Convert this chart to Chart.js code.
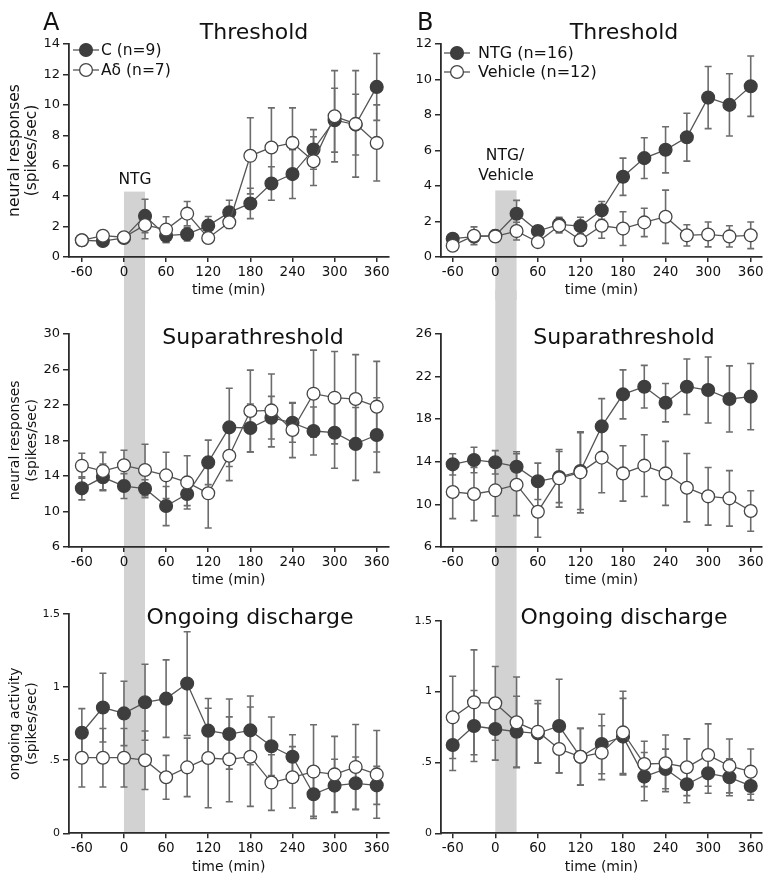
<!DOCTYPE html>
<html lang="en">
<head>
<meta charset="UTF-8">
<title>Threshold, suprathreshold and ongoing discharge</title>
<script src="https://cdn.jsdelivr.net/npm/chart.js"></script>
<style>
  body { margin: 0; background: #fff; }
  #figure { position: relative; width: 772px; height: 885px; overflow: hidden; }
  #figure canvas { position: absolute; }
</style>
</head>
<body>
<div id="figure">
  <canvas id="a1" width="396" height="300" style="left:0px;top:0px"></canvas>
  <canvas id="b1" width="386" height="300" style="left:386px;top:0px"></canvas>
  <canvas id="a2" width="396" height="300" style="left:0px;top:290px"></canvas>
  <canvas id="b2" width="386" height="300" style="left:386px;top:290px"></canvas>
  <canvas id="a3" width="396" height="295" style="left:0px;top:590px"></canvas>
  <canvas id="b3" width="386" height="295" style="left:386px;top:590px"></canvas>
</div>

<script>
// time points (min) and axis ticks
const times = [-60, -30, 0, 30, 60, 90, 120, 150, 180, 210, 240, 270, 300, 330, 360];
const xTicks = [-60, 0, 60, 120, 180, 240, 300, 360];
const yTicksThrA = [0, 2, 4, 6, 8, 10, 12, 14];
const yTicksThrB = [0, 2, 4, 6, 8, 10, 12];
const yTicksSupA = [6, 10, 14, 18, 22, 26, 30];
const yTicksSupB = [6, 10, 14, 18, 22, 26];
const yTicksOng = [0, 0.5, 1, 1.5];
const yTickLabelsOng = ['0', '.5', '1', '1.5'];

// A - threshold
const thrC = [1.1, 1.05, 1.25, 2.7, 1.4, 1.5, 2.06, 2.93, 3.52, 4.83, 5.45, 7.07, 8.99, 8.7, 11.18];
const thrCErr = [0.2, 0.2, 0.3, 1.1, 0.45, 0.45, 0.6, 0.8, 1.0, 1.1, 1.6, 1.3, 2.1, 2.0, 2.2];
const thrAd = [1.1, 1.4, 1.3, 2.1, 1.8, 2.85, 1.25, 2.28, 6.65, 7.2, 7.5, 6.3, 9.25, 8.75, 7.5];
const thrAdErr = [0.2, 0.2, 0.3, 0.9, 0.85, 0.8, 0.3, 0.4, 2.5, 2.6, 2.3, 1.6, 3.0, 3.5, 2.5];

// B - threshold
const thrNtg = [1.03, 1.15, 1.2, 2.44, 1.46, 1.84, 1.74, 2.63, 4.52, 5.57, 6.04, 6.75, 8.98, 8.57, 9.62];
const thrNtgErr = [0.2, 0.3, 0.3, 0.75, 0.3, 0.4, 0.5, 0.5, 1.05, 1.15, 1.3, 1.35, 1.75, 1.75, 1.7];
const thrVeh = [0.64, 1.2, 1.16, 1.46, 0.84, 1.76, 0.96, 1.76, 1.6, 1.95, 2.27, 1.22, 1.27, 1.16, 1.22];
const thrVehErr = [0.2, 0.5, 0.3, 0.5, 0.2, 0.4, 0.35, 0.7, 0.95, 0.8, 1.5, 0.6, 0.7, 0.6, 0.75];

// A - suprathreshold
const supC = [12.6, 13.84, 12.86, 12.56, 10.61, 11.96, 15.52, 19.46, 19.39, 20.55, 19.98, 19.05, 18.86, 17.6, 18.6];
const supCErr = [1.3, 1.5, 1.4, 1.0, 2.2, 1.3, 2.5, 4.4, 2.7, 2.4, 2.2, 2.7, 4.0, 4.1, 4.2];
const supAd = [15.15, 14.55, 15.19, 14.66, 14.06, 13.27, 12.04, 16.27, 21.3, 21.37, 19.16, 23.25, 22.8, 22.65, 21.79];
const supAdErr = [1.4, 2.1, 1.7, 2.9, 2.6, 3.0, 3.9, 2.8, 4.6, 4.1, 3.1, 4.9, 5.2, 5.0, 5.1];

// B - suprathreshold
const supNtg = [13.75, 14.16, 13.94, 13.53, 12.16, 12.56, 13.12, 17.31, 20.31, 21.03, 19.53, 21.03, 20.72, 19.88, 20.1];
const supNtgErr = [1.0, 1.2, 1.1, 1.4, 1.7, 2.4, 3.6, 2.6, 2.3, 2.0, 1.8, 2.6, 3.1, 3.1, 3.1];
const supVeh = [11.16, 10.97, 11.31, 11.84, 9.31, 12.44, 13.0, 14.38, 12.9, 13.63, 12.9, 11.56, 10.75, 10.56, 9.38];
const supVehErr = [2.5, 2.5, 2.4, 2.9, 2.4, 2.7, 3.8, 3.3, 2.6, 2.9, 3.0, 3.2, 2.7, 2.6, 1.9];

// A - ongoing discharge
const ongC = [0.688, 0.86, 0.82, 0.896, 0.921, 1.024, 0.702, 0.679, 0.704, 0.595, 0.524, 0.267, 0.326, 0.342, 0.328];
const ongCErr = [0.165, 0.235, 0.22, 0.26, 0.265, 0.355, 0.22, 0.24, 0.235, 0.2, 0.15, 0.15, 0.18, 0.18, 0.13];
const ongAd = [0.517, 0.517, 0.517, 0.5, 0.383, 0.451, 0.515, 0.506, 0.524, 0.347, 0.383, 0.422, 0.403, 0.454, 0.403];
const ongAdErr = [0.2, 0.2, 0.2, 0.2, 0.15, 0.2, 0.34, 0.29, 0.34, 0.19, 0.21, 0.32, 0.26, 0.29, 0.3];

// B - ongoing discharge
const ongNtg = [0.623, 0.757, 0.736, 0.717, 0.705, 0.757, 0.54, 0.63, 0.682, 0.4, 0.454, 0.346, 0.423, 0.395, 0.334];
const ongNtgErr = [0.18, 0.25, 0.22, 0.25, 0.21, 0.33, 0.2, 0.21, 0.27, 0.17, 0.14, 0.13, 0.14, 0.13, 0.1];
const ongVeh = [0.818, 0.924, 0.917, 0.783, 0.717, 0.595, 0.54, 0.569, 0.712, 0.489, 0.494, 0.466, 0.552, 0.475, 0.435];
const ongVehErr = [0.29, 0.37, 0.26, 0.32, 0.22, 0.17, 0.2, 0.19, 0.29, 0.16, 0.2, 0.2, 0.22, 0.19, 0.16];

const FONT = 'DejaVu Sans';
const AXIS = '#2b2b2b';
const BAND = '#d2d2d2';

function makePanel(id, p) {
  const canvas = document.getElementById(id);
  const offX = parseFloat(canvas.style.left), offY = parseFloat(canvas.style.top);

  const datasets = p.series.map(s => ({
    label: s.label,
    data: times.map((t, k) => ({ x: t, y: s.values[k] })),
    errors: s.errors,
    filled: s.filled,
    borderColor: '#555',
    borderWidth: 1.3,
    pointRadius: 6.4,
    pointBorderWidth: 1.3,
    pointBackgroundColor: s.filled ? '#3e3e3e' : '#ffffff',
    pointBorderColor: s.filled ? '#3e3e3e' : '#454545',
    order: s.filled ? 1 : 0,
    tension: 0
  }));

  // grey bar for the drug application, behind everything
  const bandPlugin = {
    id: 'band',
    beforeDraw(chart) {
      const { ctx, chartArea } = chart;
      const x = chart.scales.x, y = chart.scales.y;
      const x0 = x.getPixelForValue(0), x1 = x.getPixelForValue(30);
      const top = p.bandTop != null ? y.getPixelForValue(p.bandTop) : 0;
      const bottom = p.bandToAxis ? chartArea.bottom : chart.height;
      ctx.save();
      ctx.fillStyle = BAND;
      ctx.fillRect(x0, top, x1 - x0, bottom - top);
      ctx.restore();
    }
  };

  // SEM bars, drawn under lines and markers
  const errorPlugin = {
    id: 'errorBars',
    beforeDatasetsDraw(chart) {
      const { ctx } = chart;
      const y = chart.scales.y;
      ctx.save();
      ctx.strokeStyle = '#6c6c6c';
      ctx.lineWidth = 1.6;
      chart.data.datasets.forEach((ds, i) => {
        const meta = chart.getDatasetMeta(i);
        meta.data.forEach((pt, k) => {
          const v = ds.data[k].y, e = ds.errors[k];
          const yHi = y.getPixelForValue(v + e), yLo = y.getPixelForValue(v - e);
          ctx.beginPath();
          ctx.moveTo(pt.x, yHi); ctx.lineTo(pt.x, yLo);
          ctx.moveTo(pt.x - 3.5, yHi); ctx.lineTo(pt.x + 3.5, yHi);
          ctx.moveTo(pt.x - 3.5, yLo); ctx.lineTo(pt.x + 3.5, yLo);
          ctx.stroke();
        });
      });
      ctx.restore();
    }
  };

  // titles, letters, legend
  const textPlugin = {
    id: 'texts',
    afterDraw(chart) {
      const { ctx } = chart;
      ctx.save();
      ctx.fillStyle = '#111';
      ctx.textBaseline = 'alphabetic';
      (p.texts || []).forEach(t => {
        ctx.font = t.size + 'px "' + FONT + '"';
        ctx.textAlign = t.align || 'center';
        ctx.fillText(t.text, t.x - offX, t.y - offY);
      });
      if (p.legend) {
        const L = p.legend;
        chart.data.datasets.forEach((ds, i) => {
          const cy = L.rows[i] - offY, cx = L.cx - offX;
          ctx.strokeStyle = '#555';
          ctx.lineWidth = 1.3;
          ctx.beginPath();
          ctx.moveTo(cx - 13, cy); ctx.lineTo(cx + 13, cy);
          ctx.stroke();
          ctx.beginPath();
          ctx.arc(cx, cy, 6.4, 0, Math.PI * 2);
          ctx.fillStyle = ds.pointBackgroundColor;
          ctx.fill();
          ctx.strokeStyle = ds.pointBorderColor;
          ctx.stroke();
          ctx.fillStyle = '#111';
          ctx.font = L.size + 'px "' + FONT + '"';
          ctx.textAlign = 'left';
          ctx.textBaseline = 'middle';
          ctx.fillText(ds.label, L.textX - offX, cy + 1);
        });
      }
      ctx.restore();
    }
  };

  const yt = p.yTitle;
  return new Chart(canvas, {
    type: 'line',
    data: { datasets },
    options: {
      responsive: false,
      animation: false,
      events: [],
      layout: { padding: p.pad },
      plugins: { legend: { display: false }, tooltip: { enabled: false } },
      scales: {
        x: {
          type: 'linear',
          min: p.xMin, max: p.xMax,
          afterBuildTicks: s => { s.ticks = xTicks.map(v => ({ value: v })); },
          afterFit: s => { s.height = 42; },
          ticks: { font: { family: FONT, size: 13.5 }, color: '#111', padding: 2, maxRotation: 0, autoSkip: false },
          grid: { drawOnChartArea: false, drawTicks: true, tickLength: 5, color: AXIS, lineWidth: 1.5 },
          border: { color: AXIS, width: 1.8 },
          title: { display: true, text: 'time (min)', font: { family: FONT, size: 14 }, color: '#111', padding: 0 }
        },
        y: {
          min: p.yTicks[0], max: p.yTicks[p.yTicks.length - 1],
          afterBuildTicks: s => { s.ticks = p.yTicks.map(v => ({ value: v })); },
          afterFit: s => { s.width = p.yWidth; },
          ticks: {
            font: { family: FONT, size: p.yFont }, color: '#111', padding: 3,
            callback: (v, i) => p.yLabels ? p.yLabels[i] : String(v)
          },
          grid: { drawOnChartArea: false, drawTicks: true, tickLength: 6, color: AXIS, lineWidth: 1.5 },
          border: { color: AXIS, width: 1.8 },
          title: yt ? {
            display: true, text: yt.text, color: '#111',
            font: { family: FONT, size: yt.size, lineHeight: 17 / yt.size },
            padding: { top: 15 - 8.5 }
          } : { display: false }
        }
      }
    },
    plugins: [bandPlugin, errorPlugin, textPlugin]
  });
}

const colA = { xMin: -78.3, xMax: 376.5, yWidth: 69 };
const colB = { xMin: -76.5, xMax: 375.9, yWidth: 55 };

makePanel('a1', Object.assign({}, colA, {
  pad: { top: 44, bottom: 1, left: 0, right: 4.3 },
  yTicks: yTicksThrA, yFont: 13,
  yTitle: { text: ['neural responses', '(spikes/sec)'], size: 15.5 },
  bandTop: 4.3,
  series: [
    { label: 'C (n=9)', values: thrC, errors: thrCErr, filled: true },
    { label: 'A\u03B4 (n=7)', values: thrAd, errors: thrAdErr, filled: false }
  ],
  legend: { rows: [50, 70], cx: 86, textX: 101, size: 15.5 },
  texts: [
    { text: 'A', x: 43, y: 30, size: 24, align: 'left' },
    { text: 'Threshold', x: 254, y: 39, size: 22 },
    { text: 'NTG', x: 135, y: 184, size: 15.5 }
  ]
}));

makePanel('b1', Object.assign({}, colB, {
  pad: { top: 44, bottom: 1, left: 0, right: 10 },
  yTicks: yTicksThrB, yFont: 13,
  bandTop: 3.75,
  series: [
    { label: 'NTG (n=16)', values: thrNtg, errors: thrNtgErr, filled: true },
    { label: 'Vehicle (n=12)', values: thrVeh, errors: thrVehErr, filled: false }
  ],
  legend: { rows: [53, 72], cx: 457, textX: 478, size: 16 },
  texts: [
    { text: 'B', x: 417, y: 30, size: 24, align: 'left' },
    { text: 'Threshold', x: 624, y: 38.5, size: 22 },
    { text: 'NTG/', x: 505, y: 160, size: 15.5 },
    { text: 'Vehicle', x: 506, y: 180, size: 15.5 }
  ]
}));

makePanel('a2', Object.assign({}, colA, {
  pad: { top: 43.7, bottom: 1, left: 0, right: 4.3 },
  yTicks: yTicksSupA, yFont: 13,
  yTitle: { text: ['neural responses', '(spikes/sec)'], size: 14 },
  series: [
    { label: 'C (n=9)', values: supC, errors: supCErr, filled: true },
    { label: 'A\u03B4 (n=7)', values: supAd, errors: supAdErr, filled: false }
  ],
  texts: [{ text: 'Suparathreshold', x: 253, y: 344, size: 22 }]
}));

makePanel('b2', Object.assign({}, colB, {
  pad: { top: 43.7, bottom: 1, left: 0, right: 10 },
  yTicks: yTicksSupB, yFont: 13,
  series: [
    { label: 'NTG (n=16)', values: supNtg, errors: supNtgErr, filled: true },
    { label: 'Vehicle (n=12)', values: supVeh, errors: supVehErr, filled: false }
  ],
  texts: [{ text: 'Suparathreshold', x: 624, y: 343.5, size: 22 }]
}));

makePanel('a3', Object.assign({}, colA, {
  pad: { top: 24, bottom: 9.7, left: 0, right: 4.3 },
  yTicks: yTicksOng, yLabels: yTickLabelsOng, yFont: 11,
  yTitle: { text: ['ongoing activity', '(spikes/sec)'], size: 14 },
  bandToAxis: true,
  series: [
    { label: 'C (n=9)', values: ongC, errors: ongCErr, filled: true },
    { label: 'A\u03B4 (n=7)', values: ongAd, errors: ongAdErr, filled: false }
  ],
  texts: [{ text: 'Ongoing discharge', x: 250, y: 624, size: 22 }]
}));

makePanel('b3', Object.assign({}, colB, {
  pad: { top: 30.7, bottom: 9.7, left: 0, right: 10 },
  yTicks: yTicksOng, yLabels: yTickLabelsOng, yFont: 11,
  bandToAxis: true,
  series: [
    { label: 'NTG (n=16)', values: ongNtg, errors: ongNtgErr, filled: true },
    { label: 'Vehicle (n=12)', values: ongVeh, errors: ongVehErr, filled: false }
  ],
  texts: [{ text: 'Ongoing discharge', x: 624, y: 624, size: 22 }]
}));
</script>
</body>
</html>
